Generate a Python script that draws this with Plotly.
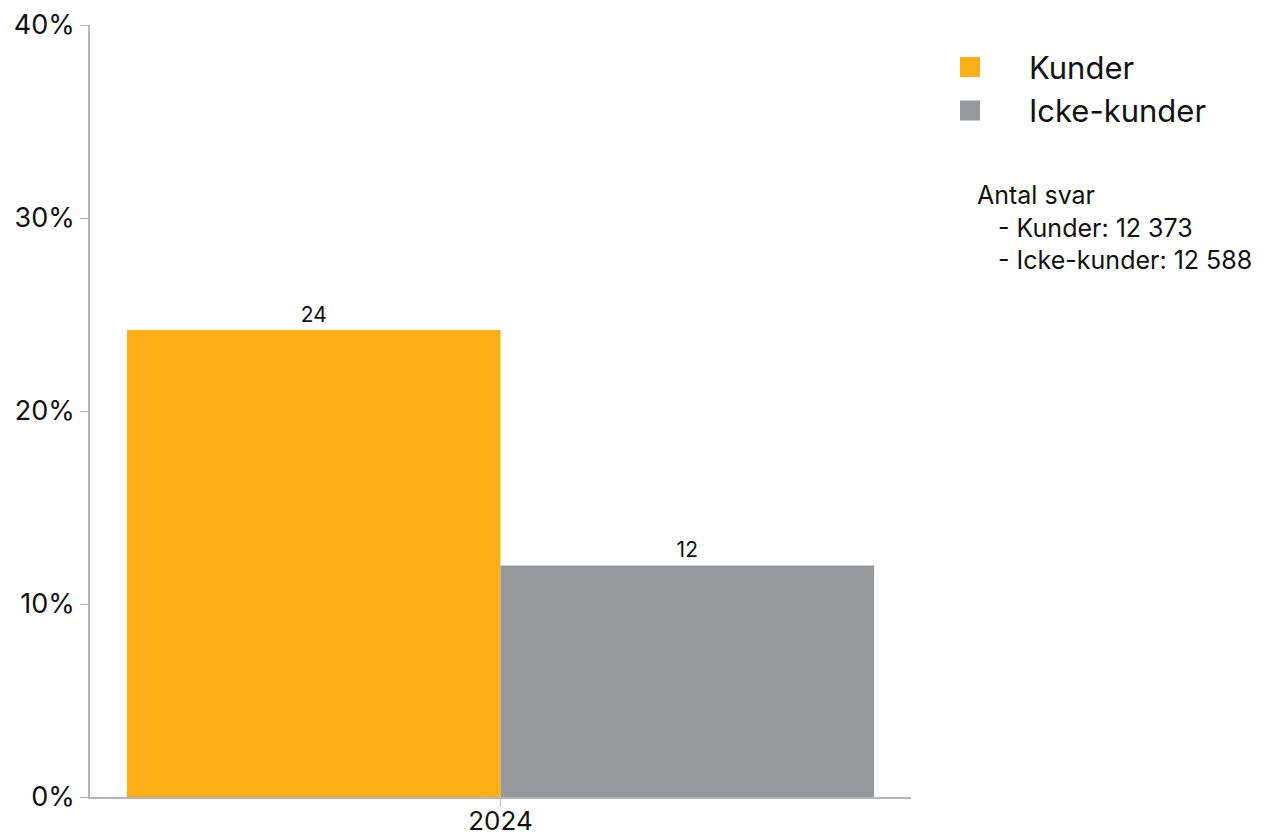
import plotly.graph_objects as go

years = ["2024"]
kunder = [24.2]
icke_kunder = [12.0]
series_names = ["Kunder", "Icke-kunder"]
colors = ["#FCAF17", "#97989C"]
y_ticks = [0, 10, 20, 30, 40]
y_tick_labels = ["0%", "10%", "20%", "30%", "40%"]
note_lines = ["Antal svar", "   - Kunder: 12 373", "   - Icke-kunder: 12 588"]

FONT = "Inter, sans-serif"

fig = go.Figure()
for name, vals, col in zip(series_names, [kunder, icke_kunder], colors):
    fig.add_trace(go.Bar(
        x=years, y=vals, name=name, showlegend=False,
        marker=dict(color=col, line=dict(width=0)),
        text=vals, texttemplate="%{y:.0f}", textposition="outside",
        textfont=dict(size=21, color="#111111", family=FONT),
        cliponaxis=False,
    ))

# legend entries with bigger square swatches
for name, col in zip(series_names, colors):
    fig.add_trace(go.Scatter(
        x=[None], y=[None], name=name, mode="markers",
        marker=dict(symbol="square", size=16, color=col,
                    line=dict(color=col, width=4)),
    ))

note = "<br>".join(l.replace(" ", "\u00a0") for l in note_lines)
fig.add_annotation(
    text=note, xref="paper", yref="paper", x=1.078, y=0.802,
    xanchor="left", yanchor="top", align="left", showarrow=False,
    font=dict(size=25, color="#111111", family=FONT),
)

fig.update_layout(
    width=1279, height=827,
    margin=dict(l=82, r=376, t=17, b=38, autoexpand=False),
    barmode="group", bargap=0.09, bargroupgap=0,
    plot_bgcolor="white", paper_bgcolor="white",
    font=dict(family=FONT, color="#111111"),
    legend=dict(
        x=1.0, y=0.98, xanchor="left", yanchor="top",
        font=dict(size=31, family=FONT), itemwidth=108,
        itemsizing="trace", tracegroupgap=0, bgcolor="rgba(0,0,0,0)",
    ),
)
fig.update_yaxes(
    range=[0, 40], tickvals=y_ticks, ticktext=y_tick_labels,
    showgrid=False, zeroline=False, automargin=False,
    showline=True, linecolor="#b5b5b5", linewidth=1.5,
    ticks="outside", ticklen=8, tickcolor="#b5b5b5",
    tickfont=dict(size=27, family=FONT),
)
fig.update_xaxes(
    showgrid=False, showline=True, linecolor="#b5b5b5", linewidth=1.5,
    ticks="outside", ticklen=8, tickcolor="#b5b5b5", automargin=False,
    ticklabelstandoff=-8,
    tickfont=dict(size=26, family=FONT),
)

fig.write_html("out.html")
